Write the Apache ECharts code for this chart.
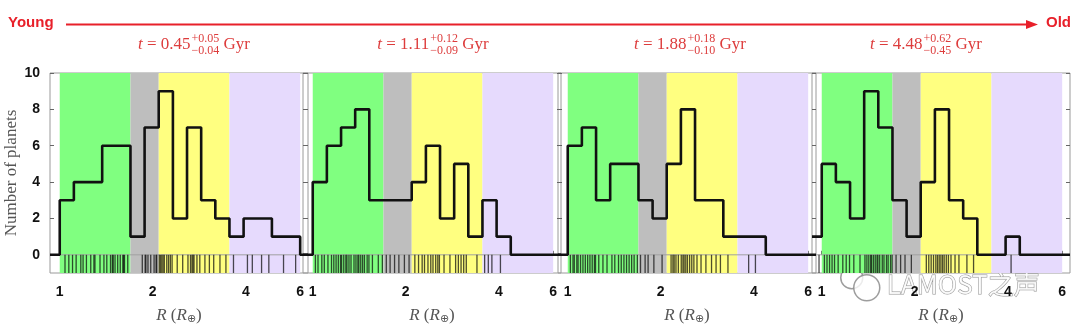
<!DOCTYPE html>
<html><head><meta charset="utf-8">
<script src="https://cdn.jsdelivr.net/npm/echarts@6/dist/echarts.min.js"></script>
<style>html,body{margin:0;padding:0;background:#fff}#c{width:1080px;height:330px}</style>
</head><body><div id="c"></div>
<script>
// ---- data ----
const binEdges = [1.000, 1.111, 1.235, 1.372, 1.524, 1.694, 1.882, 2.091, 2.324, 2.582, 2.869, 3.188, 3.542, 3.936, 4.374, 4.860, 5.400, 6.000];
const counts1 = [3, 4, 4, 6, 6, 1, 7, 9, 2, 7, 3, 2, 1, 2, 2, 1, 1];
const counts2 = [4, 6, 7, 8, 3, 3, 3, 4, 6, 2, 5, 1, 3, 1, 0, 0, 0];
const counts3 = [6, 7, 3, 5, 5, 3, 2, 5, 8, 3, 3, 1, 1, 1, 0, 0, 0];
const counts4 = [5, 4, 2, 9, 7, 3, 1, 4, 8, 3, 2, 0, 0, 1, 0, 0, 0];
const leadCounts = [0, 0, 0, 1];
const rug1 = [1.04,1.07,1.10, 1.13,1.17,1.19,1.22, 1.26,1.29,1.30,1.35, 1.39,1.42,1.46,1.48,1.49,1.51,
  1.54,1.57,1.60,1.61,1.62,1.66, 1.85, 1.89,1.90,1.93,1.97,2.02,2.05,2.06,
  2.10,2.12,2.14,2.16,2.18,2.22,2.25,2.28,2.31, 2.40,2.50, 2.60,2.65,2.68,2.70,2.72,2.78,2.84,
  2.95,3.05,3.15, 3.30,3.45, 3.65, 4.05,4.20, 4.50,4.75, 5.30, 5.80];
const rug2 = [1.02,1.04,1.07,1.09, 1.12,1.15,1.17,1.19,1.21,1.23, 1.24,1.26,1.28,1.29,1.31,1.33,1.36,
  1.38,1.40,1.41,1.43,1.45,1.47,1.50,1.52, 1.56,1.63,1.68, 1.73,1.78,1.84, 1.90,1.98,2.05,
  2.14,2.20,2.26,2.30, 2.36,2.41,2.45,2.50,2.54,2.57, 2.66,2.78, 2.90,2.96,3.02,3.08,3.14,
  3.40, 3.60,3.70,3.80, 4.05];
const rug3 = [1.02,1.04,1.05,1.07,1.08,1.10, 1.12,1.14,1.16,1.18,1.20,1.22,1.23, 1.26,1.30,1.34,
  1.39,1.42,1.46,1.49,1.52, 1.55,1.58,1.61,1.64,1.68, 1.72,1.78,1.82, 1.90,2.02,
  2.16,2.19,2.21,2.24,2.28, 2.33,2.36,2.38,2.41,2.44,2.48,2.52,2.56, 2.62,2.70,2.80,
  2.92,3.02,3.12, 3.30, 3.85, 4.05];
const rug4 = [0.98, 1.02,1.04,1.06,1.08,1.10, 1.13,1.17,1.20,1.23, 1.27,1.33,
  1.38,1.40,1.42,1.44,1.45,1.47,1.49,1.51,1.52, 1.54,1.57,1.59,1.62,1.64,1.67,1.69,
  1.74,1.80,1.86, 1.95, 2.18,2.22,2.26,2.30, 2.34,2.37,2.40,2.43,2.46,2.49,2.53,2.57,
  2.62,2.70,2.78, 2.95,3.10, 4.10];
const bandEdges = [1.0, 1.694, 2.091, 3.542, 6.0];
const ageValues = ['0.45', '1.11', '1.88', '4.48'];
const agePlus = ['+0.05', '+0.12', '+0.18', '+0.62'];
const ageMinus = ['\u22120.04', '\u22120.09', '\u22120.10', '\u22120.45'];
const xTickLabels = [1, 2, 4, 6];
const yTickLabels = [0, 2, 4, 6, 8, 10];

// ---- styles / layout ----
const bandColors = ['#80ff80', '#bebebe', '#ffff80', '#e6dafd'];
const X_MIN = 0.93, X_MAX = 6.36;
const panelLeft = [50, 303, 558, 812];
const panelWidth = 258;
const GTOP = 73, GH = 204;
const RED = '#e8202a', TRED = '#dd3c3c';
const countsAll = [counts1, counts2, counts3, counts4];
const rugAll = [rug1, rug2, rug3, rug4];

const chart = echarts.init(document.getElementById('c'), null, {renderer: 'canvas'});

const grids = [], xAxes = [], yAxes = [], series = [];
for (let i = 0; i < 4; i++) {
  grids.push({left: panelLeft[i], top: GTOP, width: panelWidth, height: GH, show: true,
    borderColor: '#9a9a9a', borderWidth: 1, backgroundColor: 'transparent'});
  xAxes.push({type: 'log', gridIndex: i, min: X_MIN, max: X_MAX,
    axisLine: {show: false}, splitLine: {show: false},
    axisTick: {show: true, inside: true, length: 4, customValues: xTickLabels, lineStyle: {color: '#666'}},
    axisLabel: {show: true, customValues: xTickLabels, margin: 12, fontSize: 14, fontWeight: 'bold',
      fontFamily: 'Liberation Sans, Arial, sans-serif', color: '#111'},
    name: '{i|R} ({i|R}{s|\u2295})', nameLocation: 'middle', nameGap: 33,
    nameTextStyle: {fontFamily: 'Liberation Serif, serif', fontSize: 17, color: '#555',
      rich: {i: {fontStyle: 'italic', fontFamily: 'Liberation Serif, serif', fontSize: 17, color: '#555'},
             s: {fontSize: 11, fontFamily: 'DejaVu Sans, sans-serif', color: '#555', padding: [8, 0, 0, 0]}}}
  });
  const yBase = {type: 'value', gridIndex: i, min: -1, max: 10,
    axisLine: {show: false}, splitLine: {show: false},
    axisTick: {show: true, inside: true, length: 4, customValues: yTickLabels, lineStyle: {color: '#666'}}};
  yAxes.push(Object.assign({}, yBase, {position: 'left',
    axisLabel: {show: i === 0, customValues: yTickLabels, margin: 10, fontSize: 14, fontWeight: 'bold',
      fontFamily: 'Liberation Sans, Arial, sans-serif', color: '#111'},
    name: i === 0 ? 'Number of planets' : '', nameLocation: 'middle', nameGap: 28,
    nameTextStyle: {fontFamily: 'Liberation Serif, serif', fontSize: 17, color: '#555'}}));
  yAxes.push(Object.assign({}, yBase, {position: 'right', axisLabel: {show: false}}));
  const yIdx = 2 * i;

  // background bands
  const bandData = [];
  for (let b = 0; b < 4; b++) bandData.push([bandEdges[b], bandEdges[b + 1], b]);
  series.push({type: 'custom', xAxisIndex: i, yAxisIndex: yIdx, z: 1, silent: true,
    data: bandData, encode: {x: [0, 1]},
    renderItem: (params, api) => {
      const p0 = api.coord([api.value(0), 10]);
      const p1 = api.coord([api.value(1), -1]);
      return {type: 'rect', shape: {x: p0[0], y: p0[1], width: p1[0] - p0[0], height: p1[1] - p0[1]},
        style: {fill: bandColors[api.value(2)]}};
    }});
  // zero line
  series.push({type: 'custom', xAxisIndex: i, yAxisIndex: yIdx, z: 2, silent: true,
    data: [[X_MIN, X_MAX]], encode: {x: [0, 1]},
    renderItem: (params, api) => {
      const p0 = api.coord([api.value(0), 0]);
      const p1 = api.coord([api.value(1), 0]);
      return {type: 'line', shape: {x1: p0[0], y1: p0[1], x2: p1[0], y2: p1[1]},
        style: {stroke: '#a0a0a0', lineWidth: 1}};
    }});
  // rug
  series.push({type: 'custom', xAxisIndex: i, yAxisIndex: yIdx, z: 3, silent: true,
    data: rugAll[i].map(v => [v, 0]), encode: {x: 0, y: 1},
    renderItem: (params, api) => {
      const p0 = api.coord([api.value(0), 0]);
      const p1 = api.coord([api.value(0), -1]);
      return {type: 'line', shape: {x1: p0[0], y1: p0[1], x2: p1[0], y2: p1[1]},
        style: {stroke: 'rgba(10,10,10,0.72)', lineWidth: 1.3}};
    }});
  // histogram (step outline)
  const c = countsAll[i];
  const pts = [[X_MIN, leadCounts[i]], [binEdges[0], leadCounts[i]]];
  for (let k = 0; k < c.length; k++) { pts.push([binEdges[k], c[k]]); pts.push([binEdges[k + 1], c[k]]); }
  pts.push([binEdges[binEdges.length - 1], 0]); pts.push([X_MAX, 0]);
  series.push({type: 'line', xAxisIndex: i, yAxisIndex: yIdx, z: 4, data: pts, showSymbol: false,
    symbol: 'none', silent: true, lineStyle: {color: '#111', width: 2.6}});
}

// ---- titles via measured text ----
const cv = document.createElement('canvas').getContext('2d');
function w(text, font) { cv.font = font; return cv.measureText(text).width; }
const SERIF = '"Liberation Serif", serif';
const graphics = [];
const titleCenters = [194, 433, 690, 926];
for (let i = 0; i < 4; i++) {
  const wt = w('t', 'italic 17px ' + SERIF);
  const wb = w(' = ' + ageValues[i], '17px ' + SERIF);
  const ws = Math.max(w(agePlus[i], '12px ' + SERIF), w(ageMinus[i], '12px ' + SERIF));
  const wg = w(' Gyr', '17px ' + SERIF);
  const total = wt + wb + ws + wg + 1;
  let x = titleCenters[i] - total / 2;
  const yc = 46;
  graphics.push({type: 'text', left: x, top: yc - 10, style: {text: 't', font: 'italic 17px ' + SERIF, fill: TRED}});
  x += wt;
  graphics.push({type: 'text', left: x, top: yc - 10, style: {text: ' = ' + ageValues[i], font: '17px ' + SERIF, fill: TRED}});
  x += wb + 1;
  graphics.push({type: 'text', left: x, top: yc - 13, style: {text: agePlus[i], font: '12px ' + SERIF, fill: TRED}});
  graphics.push({type: 'text', left: x, top: yc - 1, style: {text: ageMinus[i], font: '12px ' + SERIF, fill: TRED}});
  x += ws;
  graphics.push({type: 'text', left: x, top: yc - 10, style: {text: ' Gyr', font: '17px ' + SERIF, fill: TRED}});
}
// arrow + Young/Old
graphics.push({type: 'text', left: 8, top: 15, style: {text: 'Young', font: 'bold 15px "Liberation Sans", Arial, sans-serif', fill: RED}});
graphics.push({type: 'text', right: 9, top: 15, style: {text: 'Old', font: 'bold 15px "Liberation Sans", Arial, sans-serif', fill: RED}});
graphics.push({type: 'line', shape: {x1: 66, y1: 24.5, x2: 1030, y2: 24.5}, style: {stroke: RED, lineWidth: 2}});
graphics.push({type: 'polygon', shape: {points: [[1026, 20], [1038, 24.5], [1026, 29]]}, style: {fill: RED}});
// watermark
graphics.push({type: 'group', left: 840, top: 266, silent: true, children: [
  {type: 'circle', shape: {cx: 15, cy: 13, r: 11}, style: {fill: 'rgba(255,255,255,0.8)', stroke: 'rgba(140,140,140,0.85)', lineWidth: 1.5}},
  {type: 'circle', shape: {cx: 30, cy: 23, r: 13}, style: {fill: 'rgba(255,255,255,0.8)', stroke: 'rgba(140,140,140,0.85)', lineWidth: 1.5}},
  {type: 'text', x: 50, y: 6, style: {text: 'LAMOST之声', font: '26px "Noto Sans CJK SC", "Noto Sans", sans-serif',
    fill: 'rgba(255,255,255,0.8)', stroke: 'rgba(130,130,130,0.85)', lineWidth: 1}}
]});

chart.setOption({
  animation: false,
  backgroundColor: '#ffffff',
  grid: grids, xAxis: xAxes, yAxis: yAxes, series: series, graphic: graphics
});
</script></body></html>
